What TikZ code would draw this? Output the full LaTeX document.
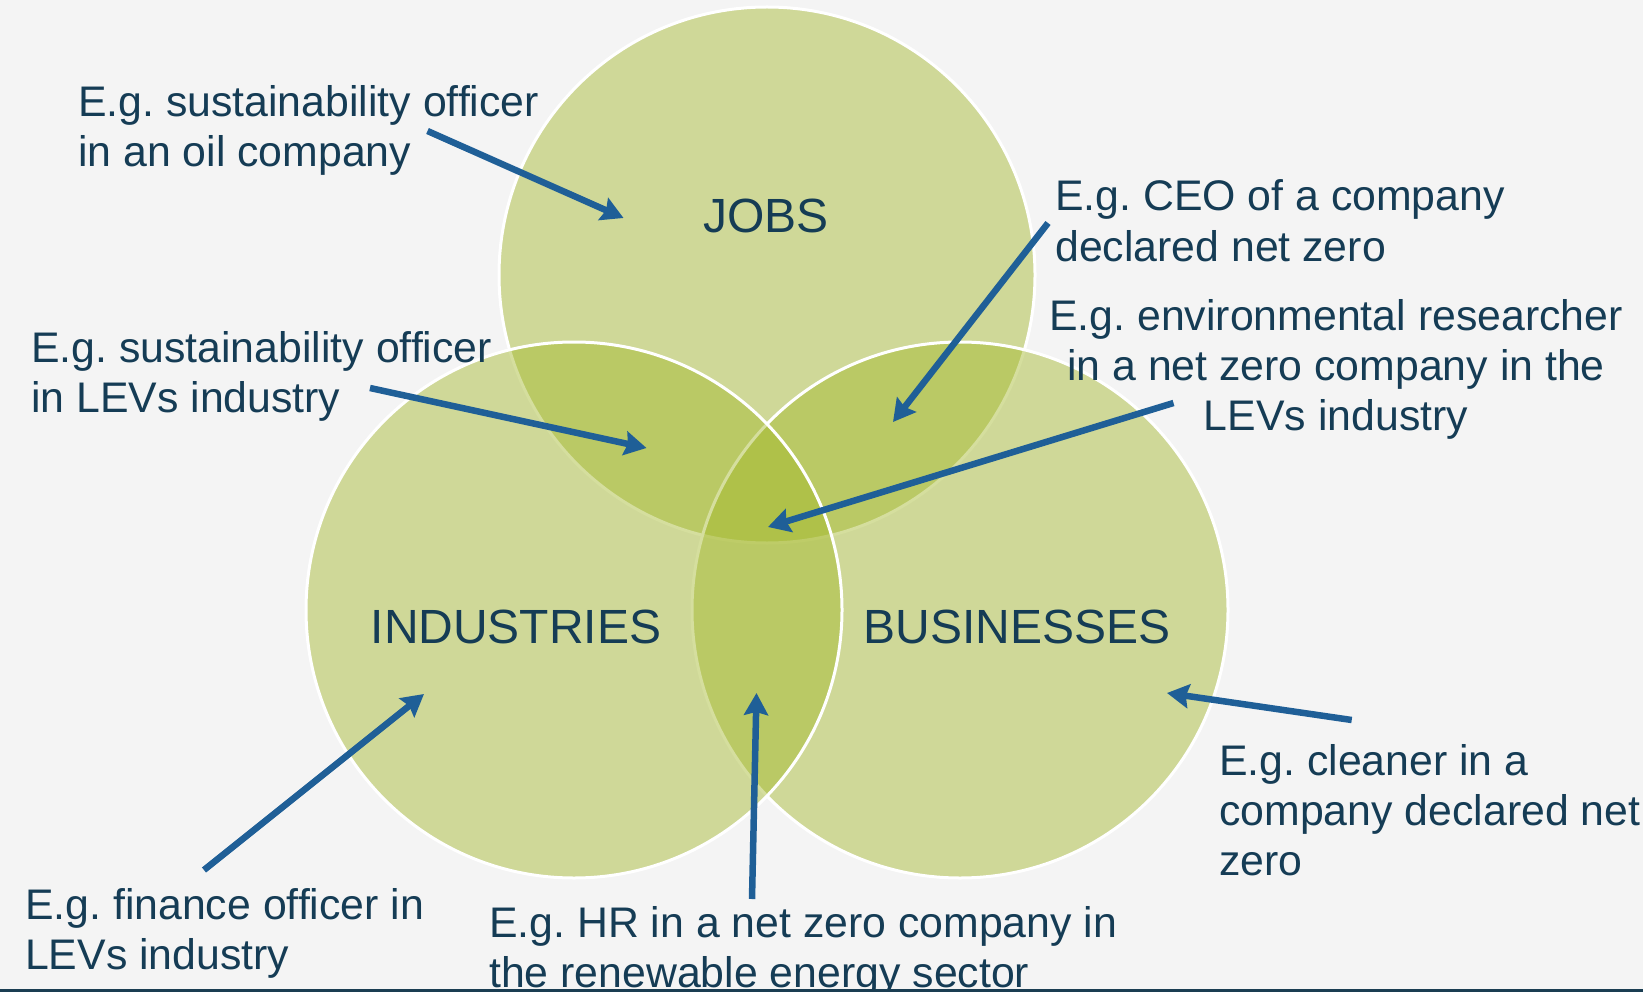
\documentclass[tikz,border=0pt]{standalone}
\usepackage{fontspec}
\setmainfont{Liberation Sans}
\usetikzlibrary{arrows.meta}
\frenchspacing
\definecolor{bg}{HTML}{F4F4F4}
\definecolor{venn}{RGB}{162,184,40}
\definecolor{txt}{HTML}{153C55}
\definecolor{arr}{HTML}{1F5F97}
\definecolor{bar}{HTML}{1A3D52}
\begin{document}
\begin{tikzpicture}[x=1pt,y=-1pt,
 circ/.style={fill=venn, fill opacity=0.45, draw=white, line width=3pt},
 lbl/.style={text=txt, font=\fontsize{48}{57}\selectfont, inner sep=0pt, anchor=base},
 ex/.style={text=txt, font=\fontsize{42.8}{50.4}\selectfont, inner sep=0pt, align=left, anchor=base west},
 exc/.style={ex, align=center, anchor=base},
 arrow/.style={draw=arr, line width=6.5pt, -{Stealth[length=22pt,width=24pt,inset=3pt]}}]
\fill[bg] (0,0) rectangle (1643,992);
\useasboundingbox (0,0) rectangle (1643,992);
% circles
\draw[circ] (767,275) circle[radius=268pt];
\draw[circ] (960,610) circle[radius=268pt];
\draw[circ] (574,610) circle[radius=268pt];
% circle labels
\node[lbl] (jobs) at (766,233) {JOBS};
\node[lbl] (ind) at (516,643) {INDUSTRIES};
\node[lbl] (bus) at (1017,643) {BUSINESSES};
% example texts (anchored at the baseline of their last line)
\node[ex] (ta) at (78,167) {E.g. sustainability officer\\in an oil company};
\node[ex] (tb) at (1055,261.4) {E.g. CEO of a company\\declared net zero};
\node[exc] (tc) at (1336,430.8) {E.g. environmental researcher\\in a net zero company in the\\LEVs industry};
\node[ex] (td) at (31,412.4) {E.g. sustainability officer\\in LEVs industry};
\node[ex] (te) at (1219,875.8) {E.g. cleaner in a\\company declared net\\zero};
\node[ex] (tf) at (25,969.4) {E.g. finance officer in\\LEVs industry};
\node[ex] (tg) at (489,987.4) {E.g. HR in a net zero company in\\the renewable energy sector};
% arrow ends
\coordinate (a1) at (427.5,131);  \coordinate (h1) at (623.5,218);
\coordinate (a2) at (1048,223);   \coordinate (h2) at (893,422);
\coordinate (a3) at (1173.5,403); \coordinate (h3) at (768,527);
\coordinate (a4) at (370,388);    \coordinate (h4) at (646.5,448);
\coordinate (a5) at (1351.7,720); \coordinate (h5) at (1167,693);
\coordinate (a6) at (204,870);    \coordinate (h6) at (424,694);
\coordinate (a7) at (752,899);    \coordinate (h7) at (756.5,693);
\draw[arrow] (a1) -- (h1);
\draw[arrow] (a2) -- (h2);
\draw[arrow] (a3) -- (h3);
\draw[arrow] (a4) -- (h4);
\draw[arrow] (a5) -- (h5);
\draw[arrow] (a6) -- (h6);
\draw[arrow] (a7) -- (h7);
% bottom bar
\fill[bar] (0,989) rectangle (1643,992);
\end{tikzpicture}
\end{document}
